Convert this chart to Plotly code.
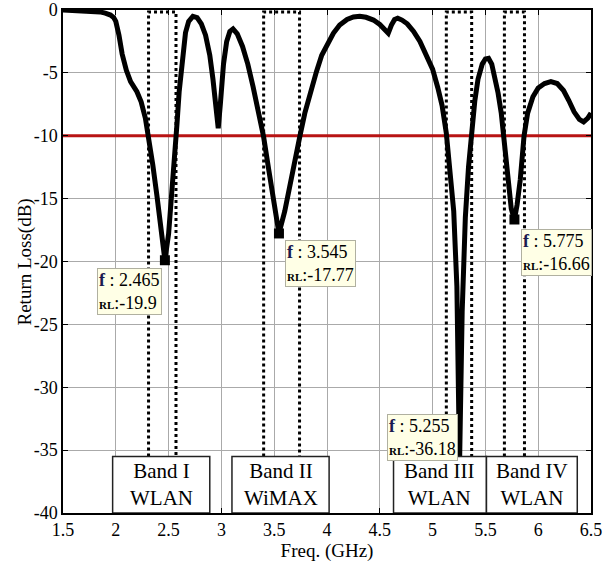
import plotly.graph_objects as go

# ---- data ----
freq = [1.5, 1.6, 1.7, 1.8, 1.85, 1.9, 1.95, 1.98, 2.0, 2.03, 2.06, 2.1, 2.14, 2.2, 2.24, 2.28, 2.31,
        2.35, 2.39, 2.43, 2.465, 2.5, 2.53, 2.56, 2.58, 2.6, 2.63, 2.66, 2.69, 2.73, 2.77, 2.81, 2.85,
        2.89, 2.92, 2.95, 2.97, 2.99, 3.02, 3.05, 3.08, 3.11, 3.15, 3.2, 3.25, 3.3, 3.35, 3.4, 3.45,
        3.5, 3.545, 3.6, 3.65, 3.7, 3.744, 3.79, 3.84, 3.9, 3.95, 4.0, 4.06, 4.12, 4.19, 4.25, 4.31,
        4.37, 4.44, 4.5, 4.54, 4.58, 4.61, 4.64, 4.67, 4.71, 4.76, 4.82, 4.88, 4.94, 5.0, 5.05, 5.09,
        5.13, 5.17, 5.2, 5.23, 5.255, 5.28, 5.31, 5.34, 5.37, 5.4, 5.43, 5.47, 5.5, 5.53, 5.56, 5.59,
        5.62, 5.65, 5.676, 5.71, 5.745, 5.775, 5.8, 5.83, 5.866, 5.9, 5.95, 6.0, 6.06, 6.12, 6.18,
        6.24, 6.29, 6.34, 6.39, 6.43, 6.47, 6.5]
rl = [0.0, -0.02, -0.05, -0.1, -0.15, -0.25, -0.4, -0.6, -0.9, -2.0, -3.5, -4.8, -5.7, -6.5, -7.3,
      -8.6, -10.0, -12.3, -14.8, -17.5, -19.9, -17.8, -14.8, -11.3, -9.0, -6.5, -3.8, -1.8, -0.9,
      -0.5, -0.6, -1.1, -2.0, -3.6, -5.5, -8.0, -9.4, -7.5, -4.3, -2.5, -1.7, -1.5, -1.9, -2.9,
      -4.3, -6.1, -7.9, -10.1, -12.8, -15.3, -17.77, -16.0, -13.8, -11.8, -10.0, -8.2, -6.6, -4.9,
      -3.6, -2.7, -1.85, -1.2, -0.75, -0.55, -0.5, -0.58, -0.8, -1.15, -1.5, -1.85, -1.2, -0.75,
      -0.65, -0.8, -1.1, -1.7, -2.5, -3.5, -4.7, -6.2, -7.6, -9.8, -13.0, -16.0, -22.0, -36.18,
      -24.0, -16.5, -12.5, -9.8, -7.2, -5.5, -4.3, -3.9, -3.85, -4.3, -5.3, -6.6, -8.2, -10.0,
      -13.0, -15.8, -16.66, -15.5, -13.5, -10.0, -8.2, -6.9, -6.2, -5.85, -5.7, -5.85, -6.4, -7.2,
      -8.1, -8.7, -8.9, -8.6, -8.2]

marker_f = [2.465, 3.545, 5.255, 5.775]
marker_rl = [-19.9, -17.77, -36.18, -16.66]

band_lo = [2.31, 3.40, 5.13, 5.68]
band_hi = [2.57, 3.74, 5.37, 5.87]
band_names = ["Band I", "Band II", "Band III", "Band IV"]
band_types = ["WLAN", "WiMAX", "WLAN", "WLAN"]
label_lo = [1.97, 3.10, 4.63, 5.51]
label_hi = [2.89, 4.02, 5.51, 6.37]

threshold = -10
x_ticks = [1.5, 2, 2.5, 3, 3.5, 4, 4.5, 5, 5.5, 6, 6.5]
y_ticks = [0, -5, -10, -15, -20, -25, -30, -35, -40]

FONT = "Liberation Serif"

fig = go.Figure()

# threshold line
fig.add_trace(go.Scatter(x=[1.5, 6.5], y=[threshold, threshold], mode="lines",
                         line=dict(color="#b81414", width=3), hoverinfo="skip"))

# band dotted outlines
for lo, hi in zip(band_lo, band_hi):
    fig.add_trace(go.Scatter(x=[lo, lo, hi, hi], y=[-35.5, -0.15, -0.15, -35.5], mode="lines",
                             line=dict(color="black", width=3, dash="dot"), hoverinfo="skip"))

# curve
fig.add_trace(go.Scatter(x=freq, y=rl, mode="lines", line=dict(color="black", width=5),
                         hoverinfo="skip"))

# data tip markers
fig.add_trace(go.Scatter(x=marker_f, y=marker_rl, mode="markers",
                         marker=dict(symbol="square", size=10, color="black"), hoverinfo="skip"))

# band label boxes
for lo, hi, n, t in zip(label_lo, label_hi, band_names, band_types):
    fig.add_shape(type="rect", x0=lo, x1=hi, y0=-40, y1=-35.5, xref="x", yref="y",
                  fillcolor="white", line=dict(color="#222", width=1.5), layer="above")
    fig.add_annotation(x=(lo + hi) / 2, y=-37.75, xref="x", yref="y", text=f"{n}<br>{t}",
                       showarrow=False, font=dict(family=FONT, size=21, color="black"))

# data tips
tip_pos = [(1.82, -20.5), (3.60, -18.3), (4.57, -32.1), (5.84, -17.4)]
for (tx, ty), f, r in zip(tip_pos, marker_f, marker_rl):
    fig.add_annotation(
        x=tx, y=ty, xref="x", yref="y", xanchor="left", yanchor="top", showarrow=False,
        align="left",
        text=f"<b><span style='color:#1a1a50'>f</span></b> : {f:g}<br>"
             f"<span style='font-size:11px'><b>RL</b></span>:{r:g}",
        font=dict(family=FONT, size=18, color="black"),
        bgcolor="#ffffe6", bordercolor="#b0b0a0", borderwidth=1, borderpad=1)

# y-axis title placed as an annotation (closer to the tick labels)
fig.add_annotation(x=-0.072, y=0.5, xref="paper", yref="paper", text="Return Loss(dB)",
                   textangle=-90, showarrow=False, xanchor="center", yanchor="middle",
                   font=dict(family=FONT, size=19, color="black"))

fig.update_layout(
    width=610, height=564, showlegend=False,
    paper_bgcolor="white", plot_bgcolor="white",
    margin=dict(l=63, r=19, t=10, b=51),
    font=dict(family=FONT, size=18, color="black"),
)
fig.update_xaxes(range=[1.5, 6.5], tickvals=x_ticks, ticktext=[f"{v:g}" for v in x_ticks],
                 showgrid=True, gridcolor="#aaaaaa", gridwidth=1, zeroline=False,
                 showline=True, linecolor="black", linewidth=1.5, mirror="ticks",
                 ticks="inside", ticklen=5, tickcolor="black", automargin=False,
                 title=dict(text="Freq. (GHz)", font=dict(size=19), standoff=3))
fig.update_yaxes(range=[-40, 0], tickvals=y_ticks, ticktext=[f"{v:g}" for v in y_ticks],
                 showgrid=True, gridcolor="#aaaaaa", gridwidth=1, zeroline=False,
                 showline=True, linecolor="black", linewidth=1.5, mirror="ticks",
                 ticks="inside", ticklen=5, tickcolor="black", automargin=False)

fig.write_html("out.html")
